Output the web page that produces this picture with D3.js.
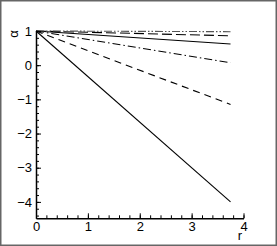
<!DOCTYPE html>
<html>
<head>
<meta charset="utf-8">
<script src="https://cdn.jsdelivr.net/npm/d3@7"></script>
<style>
  body { margin: 0; background: #fff; }
  svg text { font-family: "Liberation Sans", Arial, sans-serif; }
</style>
</head>
<body>
<div id="chart"></div>
<script>
// donnees : alpha(r), droites partant de (0,1)
var rPoints = [0, 3.75];
var alphaSteep   = [1, -4.0];
var alphaDashed  = [1, -1.15];
var alphaDashDot = [1, 0.07];
var alphaSolid   = [1, 0.62];
var alphaLong    = [1, 0.86];
var alphaTop     = [1, 0.98];

var xMajor = [0, 1, 2, 3, 4];
var yMajor = [1, 0, -1, -2, -3, -4];

var largeur = 277, hauteur = 246;
var svg = d3.select("#chart")
  .append("svg")
  .attr("width", largeur)
  .attr("height", hauteur);

// cadre gris
svg.append("rect")
  .attr("x", 0.75).attr("y", 0.75)
  .attr("width", largeur - 1.5).attr("height", hauteur - 1.5)
  .attr("fill", "#fff")
  .attr("stroke", "#666")
  .attr("stroke-width", 1.5);

var x = d3.scaleLinear().domain([0, 4]).range([36, 243.5]);
var y = d3.scaleLinear().domain([-4.48, 1]).range([218.3, 31]);

var series = [
  { vals: alphaSteep,   dash: null,               couleur: "#000" },
  { vals: alphaDashed,  dash: "7,5",              couleur: "#000" },
  { vals: alphaDashDot, dash: "8,3,1.5,3",        couleur: "#000" },
  { vals: alphaSolid,   dash: null,               couleur: "#000" },
  { vals: alphaLong,    dash: "10,4",             couleur: "#000" },
  { vals: alphaTop,     dash: "8,2,1.5,2,1.5,2",  couleur: "#555" }
];

var line = d3.line()
  .x(function(d){ return x(d[0]); })
  .y(function(d){ return y(d[1]); });

svg.selectAll(".courbe")
  .data(series)
  .enter()
  .append("path")
  .attr("class", "courbe")
  .attr("fill", "none")
  .attr("stroke", function(d){ return d.couleur; })
  .attr("stroke-width", 1.1)
  .attr("stroke-dasharray", function(d){ return d.dash; })
  .attr("d", function(d){ return line(rPoints.map(function(r, i){ return [r, d.vals[i]]; })); });

// petites graduations
var xMinor = d3.range(0, 4.001, 0.2);
var yMinor = d3.range(-4.4, 1.001, 0.2);

svg.append("g")
  .attr("transform", "translate(0," + y(-4.48) + ")")
  .call(d3.axisBottom(x).tickValues(xMinor).tickSizeInner(-3).tickSizeOuter(0).tickFormat(""))
  .call(function(g){ g.select(".domain").remove(); });

svg.append("g")
  .attr("transform", "translate(" + x(0) + ",0)")
  .call(d3.axisLeft(y).tickValues(yMinor).tickSizeInner(-3).tickSizeOuter(0).tickFormat(""))
  .call(function(g){ g.select(".domain").remove(); });

// axes principaux
var axeX = svg.append("g")
  .attr("transform", "translate(0," + y(-4.48) + ")")
  .call(d3.axisBottom(x).tickValues(xMajor).tickSizeInner(-5).tickSizeOuter(0).tickPadding(3).tickFormat(d3.format("d")));

var axeY = svg.append("g")
  .attr("transform", "translate(" + x(0) + ",0)")
  .call(d3.axisLeft(y).tickValues(yMajor).tickSizeInner(-5).tickSizeOuter(0).tickPadding(4).tickFormat(d3.format("d")));

[axeX, axeY].forEach(function(a){
  a.select(".domain").attr("stroke-width", 1.5);
  a.selectAll(".tick line").attr("stroke-width", 1);
  a.selectAll("text")
    .attr("font-size", "13px")
    .attr("fill", "#000")
    .style("font-family", "Liberation Sans, Arial, sans-serif");
});

// titres des axes
svg.append("text")
  .attr("x", 240)
  .attr("y", 240)
  .attr("text-anchor", "middle")
  .attr("font-size", "13px")
  .text("r");

svg.append("text")
  .attr("transform", "translate(18,34) rotate(-90)")
  .attr("text-anchor", "middle")
  .attr("font-size", "13px")
  .text("α");
</script>
</body>
</html>
